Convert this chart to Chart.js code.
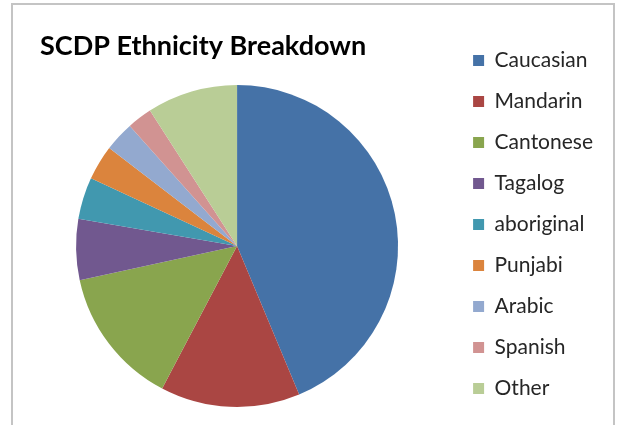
<!DOCTYPE html>
<html>
<head>
<meta charset="utf-8">
<script src="https://cdn.jsdelivr.net/npm/chart.js@4/dist/chart.umd.min.js"></script>
<style>
html,body{margin:0;padding:0;background:#fff;}
#wrap{position:relative;width:620px;height:425px;overflow:hidden;}
#frame{position:absolute;left:11px;top:3px;width:604px;height:440px;border:2px solid #c4c4c4;box-sizing:border-box;}
#chart{position:absolute;left:0;top:0;}
</style>
</head>
<body>
<div id="wrap">
<div id="frame"></div>
<canvas id="chart" width="620" height="425"></canvas>
</div>
<script>
/* DATA */
const groups = ["Caucasian","Mandarin","Cantonese","Tagalog","aboriginal","Punjabi","Arabic","Spanish","Other"]
const share = [43.7,14.0,13.9,6.1,4.2,3.5,3.0,2.5,9.1]
const colors = ["#4572A7","#AA4643","#89A54E","#71588F","#4198AF","#DB843D","#93A9CF","#D19392","#B9CD96"]

/* title sits left of the pie's centre line, like the excel original */
const titleNudge = {
id:'titleNudge',
afterLayout(chart){
chart.titleBlock.left += 19
chart.titleBlock.right += 19
}
}

/* CHART */
new Chart(document.getElementById("chart"),{
type:'pie',
data:{labels:groups,datasets:[{data:share,backgroundColor:colors,borderWidth:0,radius:161}]},
plugins:[titleNudge],
options:{
responsive:false,
animation:false,
layout:{padding:{left:21,right:17,top:30,bottom:5}},
plugins:{
tooltip:{enabled:false},
title:{display:true,text:"SCDP Ethnicity Breakdown",align:'start',fullSize:false,
color:'#000',font:{family:'Lato',size:27,weight:'bold',lineHeight:1.2},padding:{top:0,bottom:9.6}},
legend:{position:'right',align:'start',
labels:{boxWidth:11,boxHeight:11,padding:20,color:'#262626',font:{family:'Lato',size:21}}}
}
}
})
</script>
</body>
</html>
